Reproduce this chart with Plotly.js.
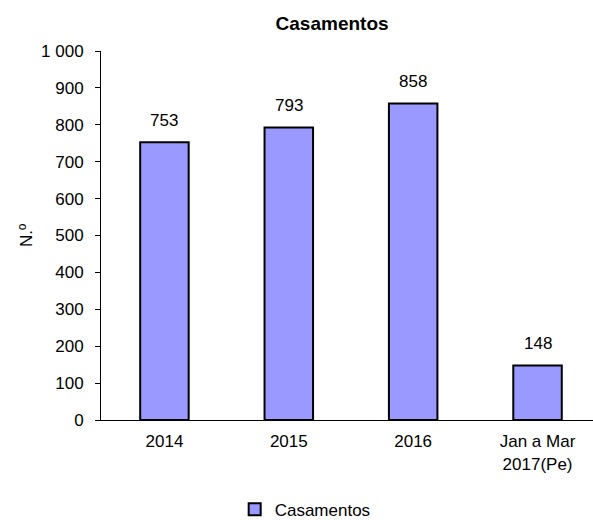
<!DOCTYPE html>
<html><head><meta charset="utf-8">
<script src="https://cdn.plot.ly/plotly-3.0.1.min.js"></script>
<style>html,body{margin:0;padding:0;background:#fff}#c{width:593px;height:520px}</style>
</head><body><div id="c"></div>
<script>
const categories = ["2014", "2015", "2016", "Jan a Mar<br>2017(Pe)"];
const values = [753, 793, 858, 148];
const seriesName = "Casamentos";
const yTicks = [0,100,200,300,400,500,600,700,800,900,1000];
const yTickText = ["0","100","200","300","400","500","600","700","800","900","1 000"];

const FONT = "Liberation Sans, Arial, sans-serif";
const trace = {
  type: "bar",
  x: categories,
  y: values,
  name: seriesName,
  width: 0.39,
  marker: {color: "#9999FF", line: {color: "#000", width: 2}},
  showlegend: true
};
const annotations = categories.map((c, i) => ({
  x: i, y: values[i], xref: "x", yref: "y",
  text: String(values[i]), showarrow: false,
  yanchor: "bottom", yshift: 10,
  font: {family: FONT, size: 17, color: "#000"}
}));
const layout = {
  width: 593, height: 520,
  margin: {l: 101, r: 0, t: 51, b: 100, autoexpand: false},
  paper_bgcolor: "#fff", plot_bgcolor: "#fff",
  font: {family: FONT, size: 17, color: "#000"},
  title: {text: "<b>Casamentos</b>", x: 0.56, xanchor: "center", y: 0.956, yanchor: "middle", font: {size: 19}},
  annotations: annotations,
  xaxis: {
    type: "category", automargin: false,
    range: [-0.51, 3.446], showline: true, linecolor: "#000", linewidth: 1,
    ticks: "", showgrid: false, zeroline: false, fixedrange: true,
    ticklabelstandoff: 6,
    tickfont: {size: 17}
  },
  yaxis: {
    automargin: true,
    range: [0, 1000], tickvals: yTicks, ticktext: yTickText,
    showline: true, linecolor: "#000", linewidth: 1,
    ticks: "outside", ticklen: 5, tickcolor: "#000",
    ticklabelstandoff: 8,
    showgrid: false, zeroline: false,
    tickfont: {size: 17},
    title: {text: "N.º", standoff: 4, font: {size: 17}}
  },
  legend: {orientation: "h", x: 0.415, xanchor: "center", y: -0.243, yanchor: "middle", font: {size: 17}}
};
Plotly.newPlot("c", [trace], layout, {displayModeBar: false, staticPlot: true});
</script></body></html>
